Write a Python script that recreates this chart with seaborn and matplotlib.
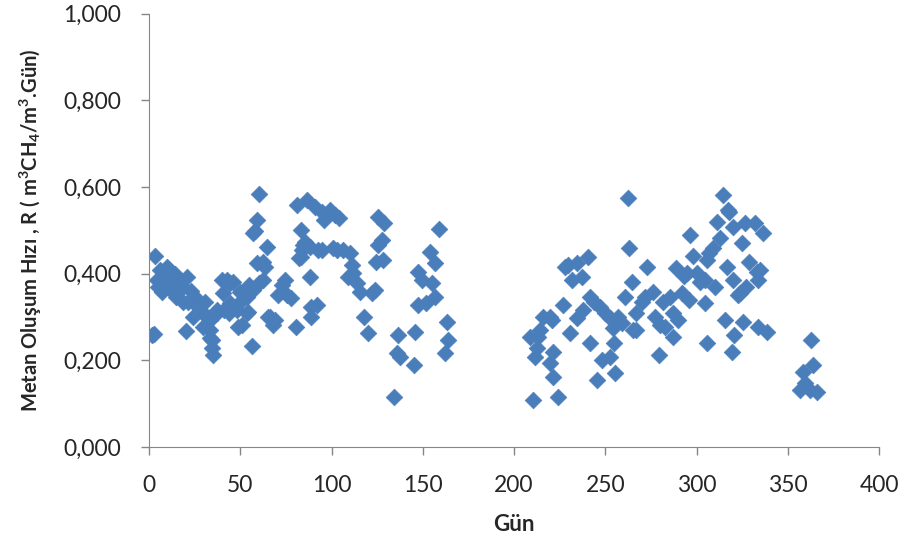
import numpy as np, pandas as pd
import matplotlib; matplotlib.use("Agg"); import matplotlib.pyplot as plt
from matplotlib.ticker import FuncFormatter, MultipleLocator
import seaborn as sns

# days / methane production rate
days_a = [1.6, 2.5, 3.3, 4.4, 5, 6, 7, 8, 9, 10, 10.5, 11.5, 12.6, 13, 14, 15, 16, 17, 18.6, 18.5,
          20, 21, 21.5, 23, 24, 25, 26, 27, 29, 29.5, 30.7, 32, 33.4, 33.4, 33.4, 34.5, 34.5, 35,
          37, 37, 40, 40.5, 41, 42.6, 44, 44.4, 44.4, 46, 48, 48.8, 50, 50, 51.5, 51, 53.6, 53.6,
          54, 55, 56.4, 57, 57, 58, 59, 59, 60, 60, 62.5, 62.5, 63.5, 64.6, 65, 66, 68, 69, 70.7,
          73, 74.5, 75.6, 78, 80.5, 81, 82, 83, 83, 84, 84.6, 85.5, 86.5, 88, 88, 89, 89, 91, 92,
          92.6, 95, 95, 96, 99, 101, 102, 103, 104, 106, 109, 110, 111, 112, 114, 115.6, 118, 120,
          122, 124, 124.6, 125.5, 125.5, 127.6, 128, 129, 134, 136, 136.5, 137.5, 145, 146,
          147.5, 147.5, 149.6, 152, 154, 155, 156.7, 156.7, 159, 162, 163, 164]
rate_a = [0.259, 0.262, 0.441, 0.386, 0.370, 0.409, 0.358, 0.395, 0.374, 0.416, 0.410, 0.386,
          0.363, 0.358, 0.400, 0.346, 0.380, 0.370, 0.370, 0.335, 0.268, 0.393, 0.335, 0.360,
          0.300, 0.346, 0.328, 0.324, 0.312, 0.277, 0.335, 0.300, 0.293, 0.270, 0.252, 0.247,
          0.229, 0.212, 0.309, 0.316, 0.386, 0.356, 0.316, 0.386, 0.309, 0.379, 0.333, 0.381,
          0.316, 0.277, 0.335, 0.358, 0.356, 0.282, 0.346, 0.309, 0.312, 0.374, 0.233, 0.363,
          0.494, 0.499, 0.524, 0.425, 0.584, 0.379, 0.427, 0.386, 0.416, 0.462, 0.300, 0.300,
          0.282, 0.293, 0.351, 0.374, 0.386, 0.351, 0.344, 0.277, 0.559, 0.436, 0.501, 0.439,
          0.455, 0.466, 0.473, 0.570, 0.462, 0.393, 0.300, 0.324, 0.554, 0.328, 0.455, 0.543,
          0.455, 0.524, 0.547, 0.460, 0.536, 0.455, 0.529, 0.455, 0.393, 0.448, 0.420, 0.402,
          0.379, 0.358, 0.300, 0.263, 0.356, 0.363, 0.427, 0.531, 0.466, 0.478, 0.432, 0.517,
          0.116, 0.217, 0.259, 0.208, 0.190, 0.266, 0.404, 0.328, 0.386, 0.333, 0.450, 0.379,
          0.425, 0.346, 0.503, 0.217, 0.289, 0.247]

days_b = [209, 210.4, 211.5, 212.6, 213, 214, 216, 219.7, 219.7, 221, 221.4, 221.4, 224, 227,
          228, 229.6, 230.7, 231.8, 234.5, 234.5, 237, 238, 240.5, 241.6, 241.6, 244, 245.5, 247,
          248, 250, 252.6, 252.6, 254, 255, 255.3, 257, 259, 261, 262.5, 263, 264.6, 265, 267,
          267, 270, 272, 273, 276, 277, 279.5, 280, 281.6, 283, 285.5, 287, 287, 289, 290, 292,
          293, 294.6, 296, 296.4, 298, 300, 302, 304.6, 304.6, 305.7, 305.7, 307, 309, 310, 311,
          313, 314.5, 315.6, 316.7, 317, 318, 319.5, 320, 320, 320.5, 322.7, 324, 325, 325.5,
          326.6, 327, 329, 332, 333, 333.7, 333.7, 334.8, 336.4, 338.6,
          356.7, 358.4, 359.5, 362, 362.7, 364, 366]
rate_b = [0.254, 0.109, 0.208, 0.229, 0.254, 0.270, 0.300, 0.194, 0.300, 0.293, 0.219, 0.162,
          0.116, 0.328, 0.416, 0.420, 0.263, 0.386, 0.425, 0.298, 0.393, 0.316, 0.439, 0.346,
          0.240, 0.335, 0.155, 0.324, 0.201, 0.309, 0.298, 0.208, 0.275, 0.240, 0.171, 0.300,
          0.286, 0.346, 0.575, 0.460, 0.381, 0.270, 0.309, 0.270, 0.335, 0.346, 0.416, 0.358,
          0.300, 0.212, 0.282, 0.335, 0.277, 0.346, 0.309, 0.254, 0.413, 0.293, 0.356, 0.395,
          0.402, 0.340, 0.490, 0.441, 0.402, 0.381, 0.386, 0.333, 0.432, 0.240, 0.448, 0.460,
          0.370, 0.520, 0.483, 0.582, 0.293, 0.416, 0.547, 0.543, 0.219, 0.508, 0.386, 0.259,
          0.351, 0.355, 0.471, 0.289, 0.517, 0.370, 0.427, 0.517, 0.405, 0.386, 0.277, 0.409,
          0.494, 0.266, 0.132, 0.173, 0.148, 0.132, 0.247, 0.190, 0.127]

df = pd.DataFrame({"gun": days_a + days_b, "R": rate_a + rate_b})

sns.set_style("ticks")
plt.rcParams["font.family"] = ["Lato", "DejaVu Sans"]
plt.rcParams["mathtext.fontset"] = "custom"
plt.rcParams["mathtext.bf"] = "Lato:bold"
plt.rcParams["mathtext.rm"] = "Lato:bold"
plt.rcParams["mathtext.default"] = "bf"

fig = plt.figure(figsize=(9.09, 5.5), dpi=100)
ax = fig.add_axes([0.164, 0.187, 0.803, 0.788])
sns.scatterplot(data=df, x="gun", y="R", marker="D", s=72, color="#4A7EBB",
                edgecolor="#4A7EBB", linewidth=0.5, ax=ax)

ax.set_xlim(0, 400); ax.set_ylim(0, 1.0)
ax.xaxis.set_major_locator(MultipleLocator(50))
ax.yaxis.set_major_locator(MultipleLocator(0.2))
ax.yaxis.set_major_formatter(FuncFormatter(lambda v, p: f"{v:.3f}".replace(".", ",")))
ax.tick_params(labelsize=16.5, length=6, color="#868686", width=1)
ax.tick_params(axis="y", pad=14)
ax.tick_params(axis="x", pad=14)
for s in ["top", "right"]:
    ax.spines[s].set_visible(False)
for s in ["left", "bottom"]:
    ax.spines[s].set_color("#868686")

ax.set_xlabel("Gün", fontsize=16, fontweight="bold", labelpad=13)
ax.set_ylabel(r"Metan Oluşum Hızı , R ( m$^3$CH$_4$/m$^3$.Gün)", fontsize=14.5,
              fontweight="bold", labelpad=14)

plt.savefig("out.png", dpi=100)
plt.close()
